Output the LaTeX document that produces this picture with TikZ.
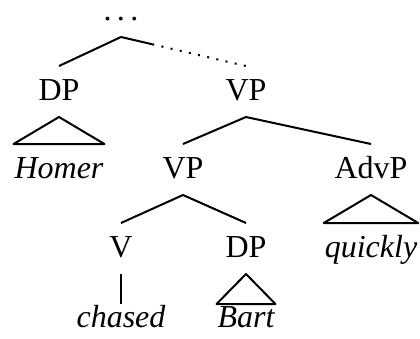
\documentclass[tikz,border=0pt]{standalone}
\usepackage{fontspec}
\setmainfont{Liberation Serif}
\usetikzlibrary{calc}
\begin{document}
\begin{tikzpicture}[x=0.5pt, y=-0.5pt, font=\fontsize{16}{19}\selectfont, line join=round, line width=1pt,
	cat/.style={anchor=base, inner sep=0pt, text height=16.5pt, text depth=8pt},
	word/.style={cat, font=\fontsize{16}{19}\selectfont\itshape},
	lastword/.style={word, text height=11pt},
	dotline/.style={dash pattern=on 1pt off 3.7pt, line cap=butt}]
	\useasboundingbox (0,0) rectangle (420,339);
	\node[cat, text height=3pt] (top) at (121,20) {.\,.\,.};
	\node[cat] (dp) at (59,100) {DP};
	\node[cat] (vp) at (246,100) {VP};
	\node[word] (homer) at (59,178) {Homer};
	\node[cat] (vpb) at (183,178) {VP};
	\node[cat] (advp) at (371,178) {AdvP};
	\node[cat] (v) at (121,257) {V};
	\node[cat] (dpb) at (246,257) {DP};
	\node[word] (quickly) at (371,257) {quickly};
	\node[lastword] (chased) at (121,327) {chased};
	\node[lastword] (bart) at (246,327) {Bart};
	\coordinate (mid) at ($(top.south)!0.25!(vp.north)$);
	\draw (top.south)--(dp.north);
	\draw (top.south)--(mid);
	\draw[dotline] (mid)--(vp.north);
	\draw (dp.south)--(homer.north west)--(homer.north east)--cycle;
	\draw (vp.south)--(vpb.north);
	\draw (vp.south)--(advp.north);
	\draw (advp.south)--(quickly.north west)--(quickly.north east)--cycle;
	\draw (vpb.south)--(v.north);
	\draw (vpb.south)--(dpb.north);
	\draw (v.south)--(chased.north);
	\draw (dpb.south)--(bart.north west)--(bart.north east)--cycle;
\end{tikzpicture}
\end{document}
